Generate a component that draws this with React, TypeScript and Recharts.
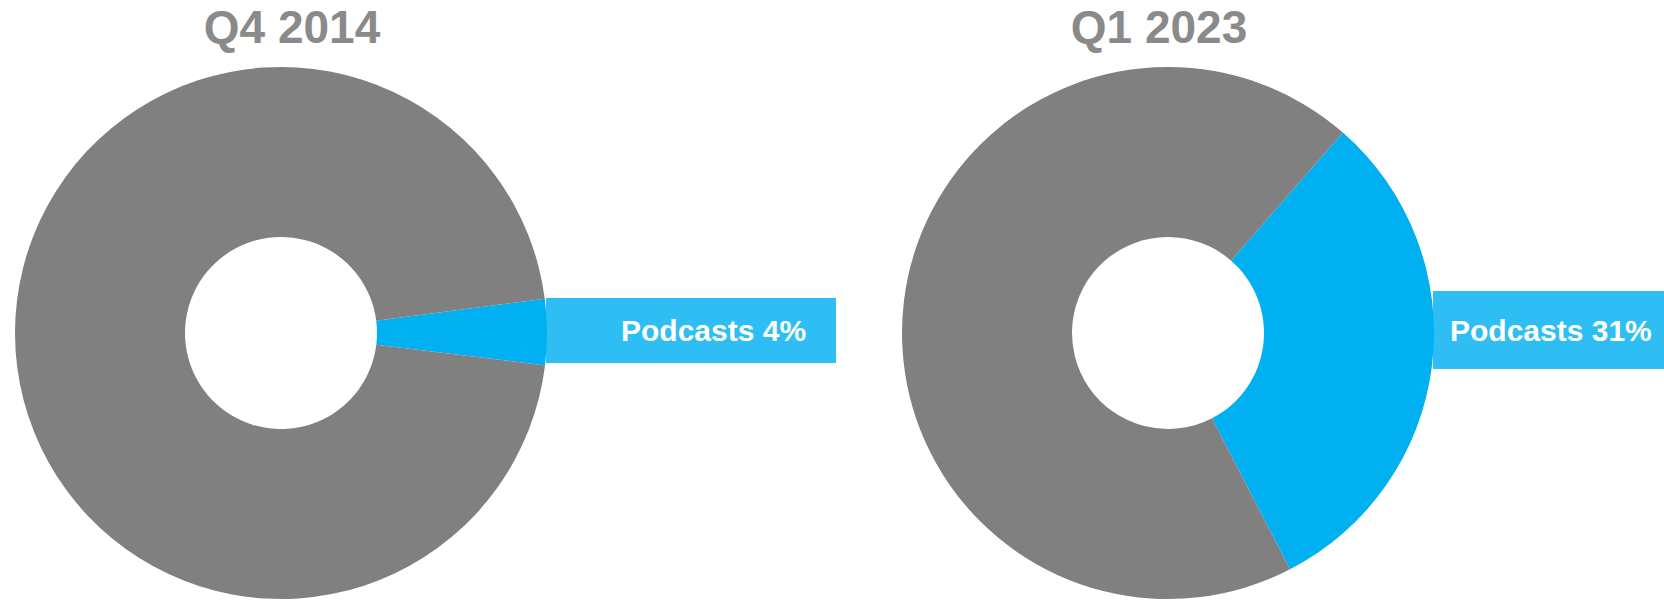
import { PieChart, Pie, Cell } from 'recharts'

const categories = ['Podcasts', 'Other']
const periods = ['Q4 2014', 'Q1 2023']
const sharesQ4_2014 = [4, 96]
const sharesQ1_2023 = [31, 69]
const colors = ['#00b0f0', '#808080']

const toRows = (values: number[]) => categories.map((name, i) => ({ name, value: values[i] }))

// layout per donut (pixels)
const donuts = [
  { cx: 281, startAngle: -7.0, rectW: 290, rectH: 65, rectMid: 330.5, textDx: 75, titleX: 292 },
  { cx: 1168, startAngle: -62.7, rectW: 240, rectH: 78, rectMid: 330, textDx: 17, titleX: 1159 },
]
const CY = 333
const OUTER = 266
const INNER = 96
const FONT = '"Liberation Sans", Arial, sans-serif'

function makeLabel(cfg: typeof donuts[number]) {
  return (props: any) => {
    if (props.index !== 0) return null
    const x0 = props.cx + props.outerRadius - 1
    return (
      <g>
        <rect x={x0} y={cfg.rectMid - cfg.rectH / 2} width={cfg.rectW} height={cfg.rectH} fill="#00b0f0" fillOpacity={0.82} />
        <text x={x0 + cfg.textDx} y={cfg.rectMid + 10.5} fill="#ffffff" fontFamily={FONT} fontWeight={700} fontSize={30}>
          {`${props.name} ${props.value}%`}
        </text>
      </g>
    )
  }
}

export default function App() {
  const series = [sharesQ4_2014, sharesQ1_2023]
  return (
    <div style={{ position: 'absolute', left: 0, top: 0, width: 1664, height: 600, background: '#fff', overflow: 'hidden' }}>
      {periods.map((p, i) => (
        <div
          key={p}
          style={{
            position: 'absolute',
            left: donuts[i].titleX - 150,
            width: 300,
            top: 4,
            textAlign: 'center',
            fontFamily: FONT,
            fontWeight: 700,
            fontSize: 46,
            lineHeight: '46px',
            color: '#8a8a8a',
          }}
        >
          {p}
        </div>
      ))}
      <PieChart
        width={1664}
        height={600}
        margin={{ top: 0, right: 0, bottom: 0, left: 0 }}
        style={{ position: 'absolute', left: 0, top: 0 }}
      >
        {series.map((vals, i) => (
          <Pie
            key={periods[i]}
            data={toRows(vals)}
            dataKey="value"
            nameKey="name"
            cx={donuts[i].cx}
            cy={CY}
            innerRadius={INNER}
            outerRadius={OUTER}
            startAngle={donuts[i].startAngle}
            endAngle={donuts[i].startAngle + 360}
            stroke="none"
            label={makeLabel(donuts[i])}
            labelLine={false}
            isAnimationActive={false}
          >
            {categories.map((c, j) => (
              <Cell key={c} fill={colors[j]} />
            ))}
          </Pie>
        ))}
      </PieChart>
    </div>
  )
}
